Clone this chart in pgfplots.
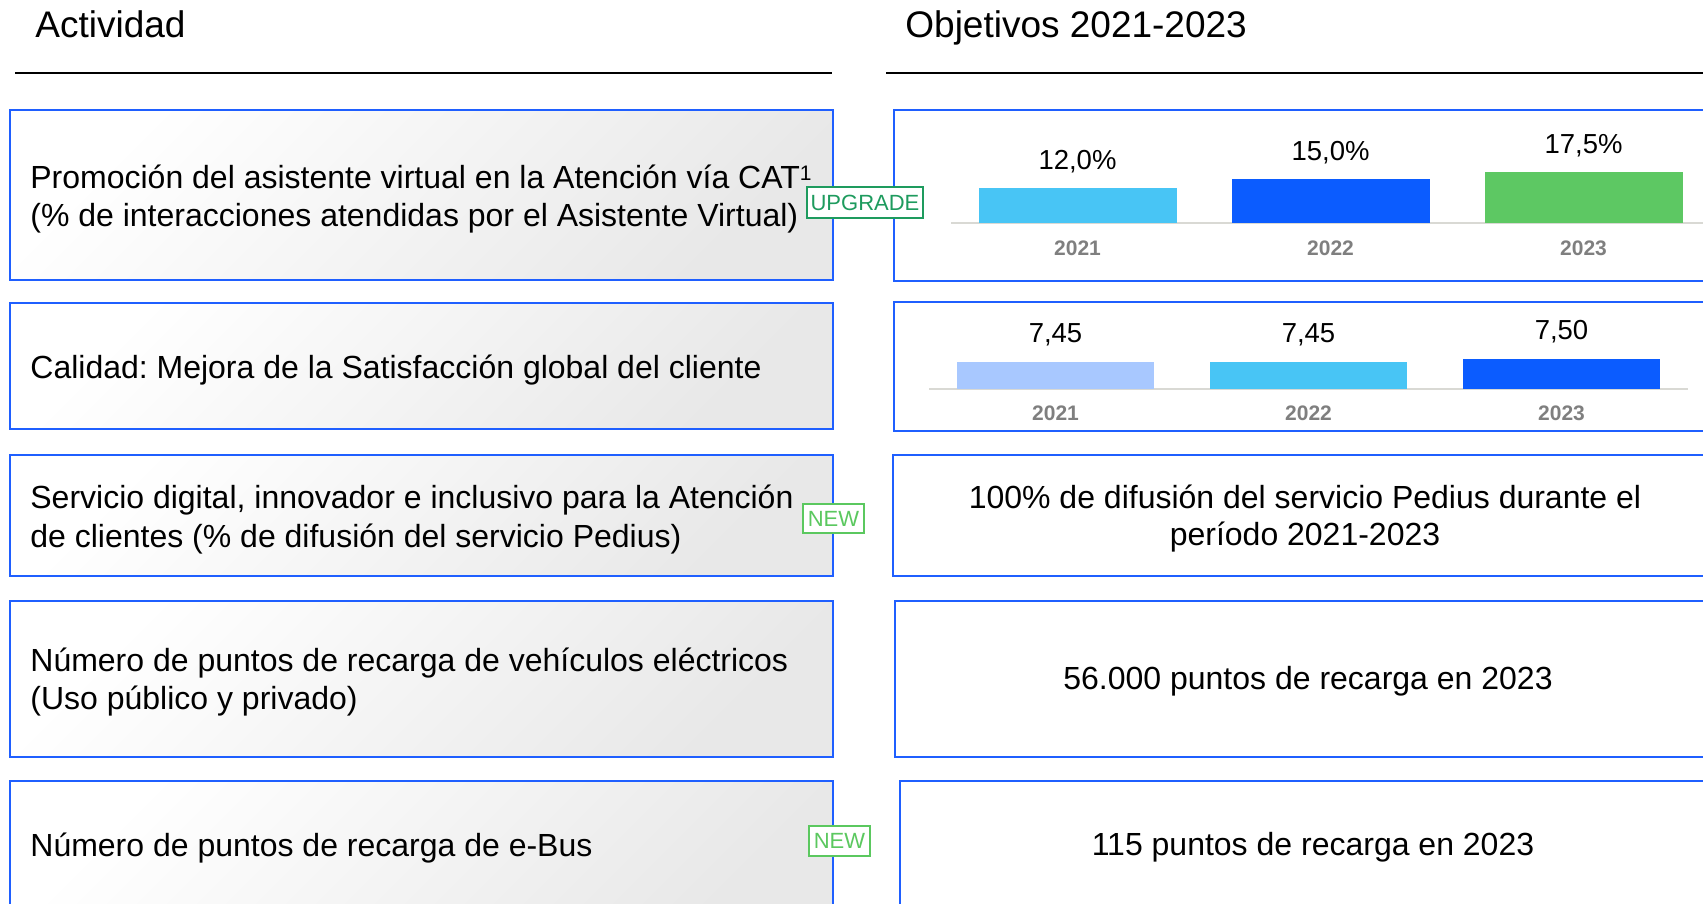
\documentclass[border=0pt]{standalone}
\usepackage{pgfplots}
\pgfplotsset{compat=1.18}
\usepackage{fontspec}
\setmainfont{Liberation Sans}
\frenchspacing

\definecolor{boxblue}{HTML}{1F5FFF}
\definecolor{lightblue}{HTML}{48C5F5}
\definecolor{strongblue}{HTML}{0B5CFF}
\definecolor{barGreen}{HTML}{5DC863}
\definecolor{paleblue}{HTML}{A8C8FF}
\definecolor{baseline}{HTML}{D9D9D4}
\definecolor{yeargray}{HTML}{7F7F7F}
\definecolor{upgreen}{HTML}{1E9B5E}
\definecolor{newgreen}{HTML}{5BC85F}

\newcommand\body{\fontsize{16}{19}\selectfont}
\newcommand\head{\fontsize{18.5}{22}\selectfont}
\newcommand\lab{\fontsize{13.75}{16}\selectfont}
\newcommand\yearf{\fontsize{10.5}{12}\selectfont\bfseries}
\newcommand\tagf{\fontsize{11}{12}\selectfont}

\begin{document}
\begin{tikzpicture}[x=0.5pt,y=-0.5pt]
\useasboundingbox (0,0) rectangle (1703,904);
\clip (0,0) rectangle (1703,904);

% headers
\node[anchor=base west, inner sep=0, font=\head] at (35,38) {Actividad};
\node[anchor=base west, inner sep=0, font=\head] at (905,38) {Objetivos 2021-2023};
\draw[line width=1pt] (15,73) -- (832,73);
\draw[line width=1pt] (886,73) -- (1703,73);

% left boxes
\tikzset{lbox/.style={draw=boxblue, line width=1pt, top color=white, bottom color=black!9, shading angle=45},
         rbox/.style={draw=boxblue, line width=1pt, fill=white}}
\path[lbox] (10,110) rectangle (833,280);
\path[lbox] (10,303) rectangle (833,429);
\path[lbox] (10,455) rectangle (833,576);
\path[lbox] (10,601) rectangle (833,757);
\path[lbox] (10,781) rectangle (833,930);

% right boxes
\path[rbox] (894,110) rectangle (1730,281);
\path[rbox] (894,302) rectangle (1730,431);
\path[rbox] (893,455) rectangle (1730,576);
\path[rbox] (895,601) rectangle (1730,757);
\path[rbox] (900,781) rectangle (1730,930);

% left texts
\begin{scope}[every node/.style={anchor=base west, inner sep=0, font=\body}]
\node at (30,188) {Promoción del asistente virtual en la Atención vía CAT\raisebox{3.5pt}{\fontsize{10.5}{12}\selectfont 1}};
\node at (30,226) {(\% de interacciones atendidas por el Asistente Virtual)};
\node at (30,378) {Calidad: Mejora de la Satisfacción global del cliente};
\node at (30,508) {Servicio digital, innovador e inclusivo para la Atención};
\node at (30,547) {de clientes (\% de difusión del servicio Pedius)};
\node at (30,671) {Número de puntos de recarga de vehículos eléctricos};
\node at (30,709) {(Uso público y privado)};
\node at (30,856) {Número de puntos de recarga de e-Bus};
\end{scope}

% right texts
\begin{scope}[every node/.style={anchor=base, inner sep=0, font=\body}]
\node at (1305,508) {100\% de difusión del servicio Pedius durante el};
\node at (1305,545) {período 2021-2023};
\node at (1308,689) {56.000 puntos de recarga en 2023};
\node at (1313,855) {115 puntos de recarga en 2023};
\end{scope}

% tags
\node[draw=upgreen, line width=0.8pt, fill=white, text=upgreen, font=\tagf,
      minimum width=58pt, minimum height=15.5pt, inner sep=0] at (865,202.5) {UPGRADE};
\node[draw=newgreen, line width=0.8pt, fill=white, text=newgreen, font=\tagf,
      minimum width=30.5pt, minimum height=14.5pt, inner sep=0] at (833.5,518.5) {NEW};
\node[draw=newgreen, line width=0.8pt, fill=white, text=newgreen, font=\tagf,
      minimum width=30.5pt, minimum height=15pt, inner sep=0] at (839.5,841) {NEW};

% chart 1: % interacciones atendidas por el Asistente Virtual
\begin{axis}[
  at={(475.5pt,-111.5pt)}, anchor=south west,
  scale only axis, width=379.5pt, height=46.88pt,
  xmin=-0.5, xmax=2.5, ymin=0, ymax=32,
  ybar, bar width=99pt,
  axis x line*=bottom, axis y line=none,
  x axis line style={-, draw=baseline, line width=1.25pt},
  xtick={0,1,2}, xticklabels={2021,2022,2023}, ytick=\empty,
  major tick length=0pt,
  xticklabel style={anchor=center, yshift=-12.5pt, font=\yearf, text=yeargray},
  nodes near coords={\pgfmathprintnumber{\pgfplotspointmeta}\%},
  every node near coord/.append style={anchor=center, yshift=13pt, font=\lab, text=black},
  /pgf/number format/.cd, fixed, fixed zerofill, precision=1, use comma, assume math mode=true,
]
\addplot[fill=lightblue, draw=none, bar shift=0pt] coordinates {(0,12.0)};
\addplot[fill=strongblue, draw=none, bar shift=0pt] coordinates {(1,15.0)};
\addplot[fill=barGreen, draw=none, bar shift=0pt] coordinates {(2,17.5)};
\end{axis}

% chart 2: satisfaccion global del cliente
\begin{axis}[
  at={(464.5pt,-194.5pt)}, anchor=south west,
  scale only axis, width=379.5pt, height=39.65pt,
  xmin=-0.5, xmax=2.5, ymin=7, ymax=8.3,
  ybar, bar width=98.5pt,
  axis x line*=bottom, axis y line=none,
  x axis line style={-, draw=baseline, line width=1.25pt},
  xtick={0,1,2}, xticklabels={2021,2022,2023}, ytick=\empty,
  major tick length=0pt,
  xticklabel style={anchor=center, yshift=-12pt, font=\yearf, text=yeargray},
  nodes near coords={\pgfmathprintnumber{\pgfplotspointmeta}},
  every node near coord/.append style={anchor=center, yshift=13.5pt, font=\lab, text=black},
  /pgf/number format/.cd, fixed, fixed zerofill, precision=2, use comma, assume math mode=true,
]
\addplot[fill=paleblue, draw=none, bar shift=0pt] coordinates {(0,7.45)};
\addplot[fill=lightblue, draw=none, bar shift=0pt] coordinates {(1,7.45)};
\addplot[fill=strongblue, draw=none, bar shift=0pt] coordinates {(2,7.50)};
\end{axis}
\end{tikzpicture}
\end{document}
